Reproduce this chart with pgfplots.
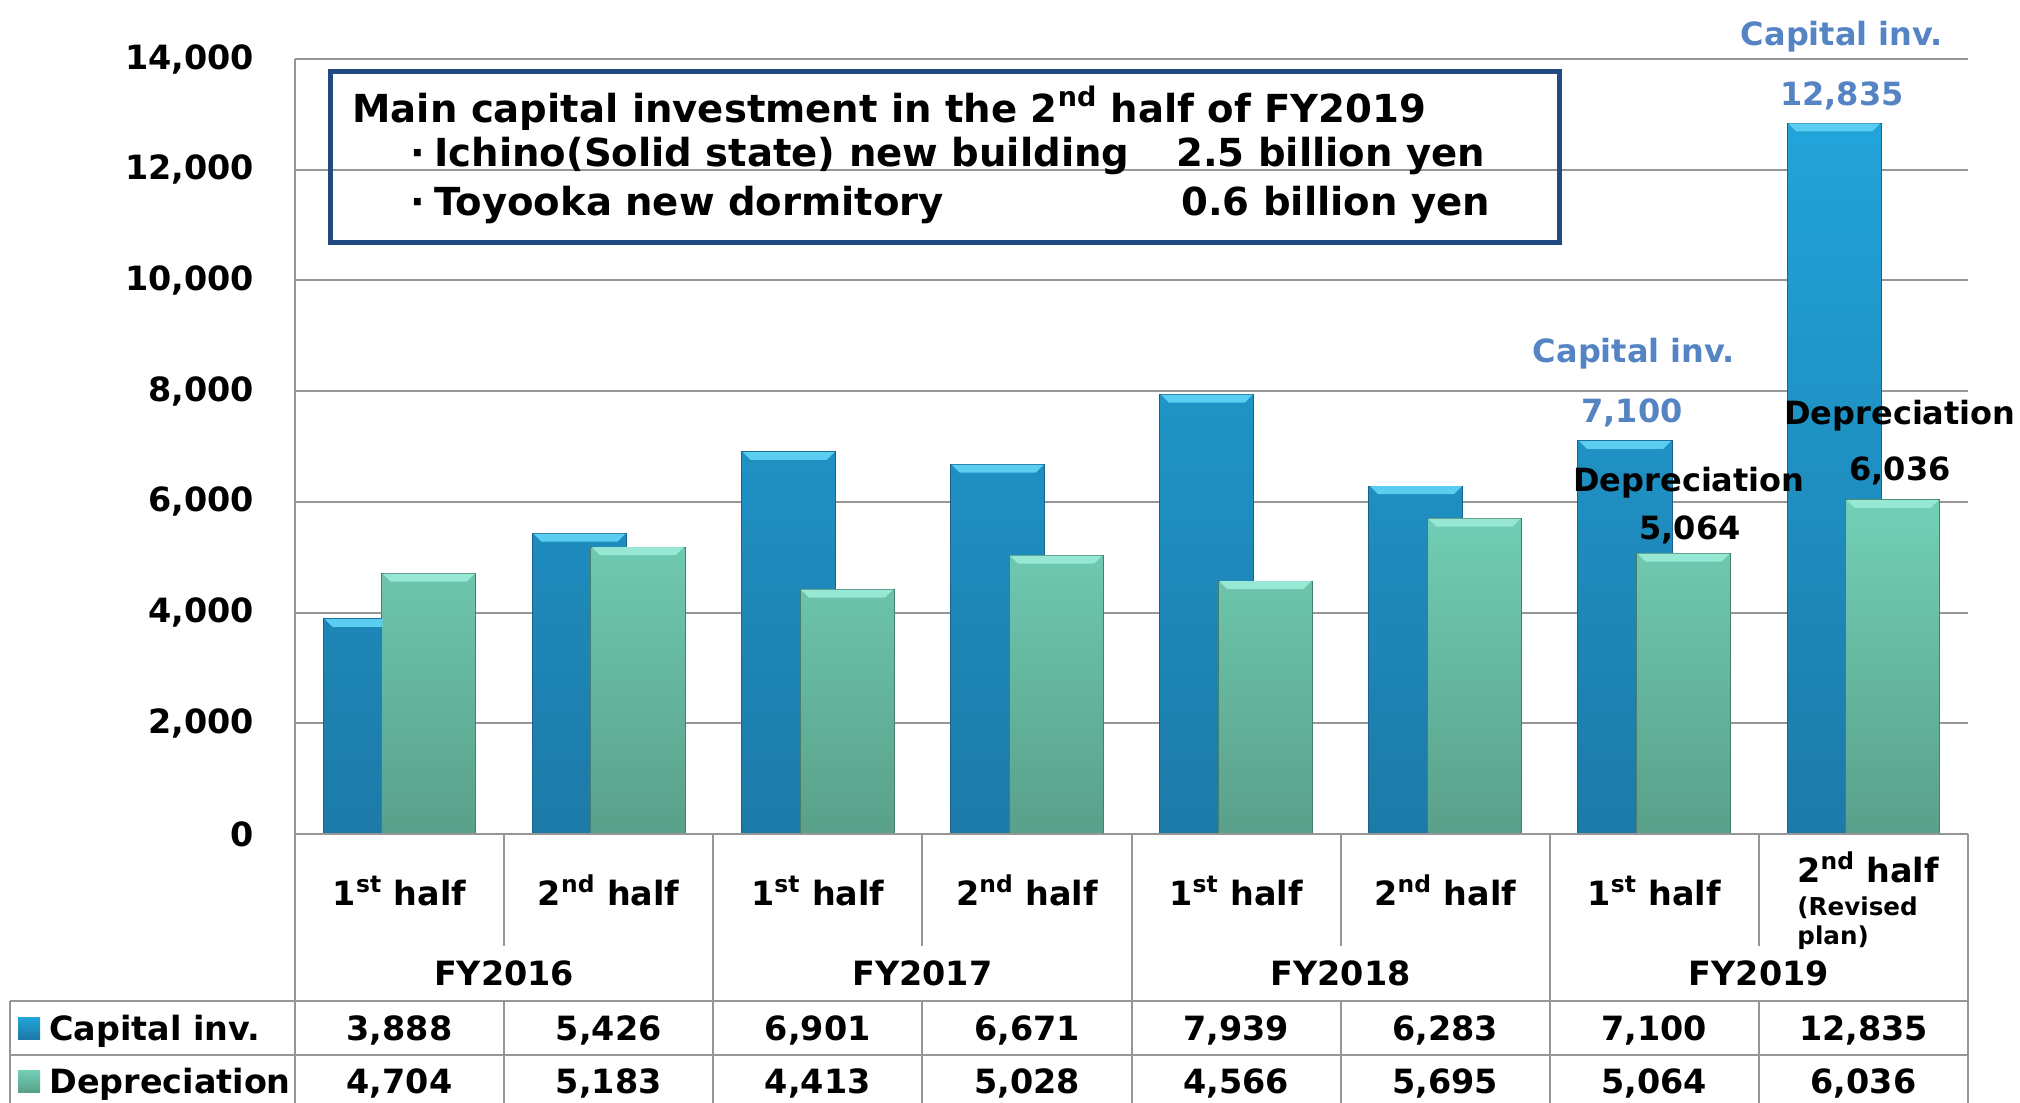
\documentclass[border=0pt]{standalone}
\usepackage{fontspec}
\setmainfont{DejaVu Sans}
\usepackage{pgfplots}
\pgfplotsset{compat=1.18}
\definecolor{capTop}{RGB}{34,164,218}
\definecolor{capBot}{RGB}{28,122,168}
\definecolor{capEdge}{RGB}{24,98,140}
\definecolor{capBev}{RGB}{90,205,240}
\definecolor{depTop}{RGB}{114,208,182}
\definecolor{depBot}{RGB}{90,160,138}
\definecolor{depEdge}{RGB}{70,128,108}
\definecolor{depBev}{RGB}{150,232,212}
\definecolor{annBlue}{RGB}{84,132,196}
\definecolor{boxBlue}{RGB}{33,74,128}
\definecolor{gridGray}{RGB}{150,150,150}
\newcommand\F[1]{\fontsize{#1}{#1}\selectfont\bfseries}
\pgfdeclareplotmark{bevel}{%
  \pgfpathmoveto{\pgfqpoint{-23pt}{0pt}}%
  \pgfpathlineto{\pgfqpoint{23pt}{0pt}}%
  \pgfpathlineto{\pgfqpoint{19pt}{-4pt}}%
  \pgfpathlineto{\pgfqpoint{-19pt}{-4pt}}%
  \pgfpathclose\pgfusepathqfill}
\pgfdeclareplotmark{bevelL}{%
  \pgfpathmoveto{\pgfqpoint{-23pt}{0pt}}%
  \pgfpathlineto{\pgfqpoint{6pt}{0pt}}%
  \pgfpathlineto{\pgfqpoint{6pt}{-4pt}}%
  \pgfpathlineto{\pgfqpoint{-19pt}{-4pt}}%
  \pgfpathclose\pgfusepathqfill}
\begin{document}
\begin{tikzpicture}
\begin{axis}[at={(147.5pt,-417pt)}, anchor=south west,
  width=836.5pt, height=387.5pt, scale only axis,
  xmin=-0.5, xmax=7.5, ymin=0, ymax=14000,
  axis line style={draw=none}, xtick=\empty,
  ytick={0,2000,4000,6000,8000,10000,12000,14000},
  ymajorgrids, grid style={gridGray, line width=1pt},
  major tick length=0pt, scaled y ticks=false,
  yticklabel style={font=\F{16.7}, xshift=-17pt},
  /pgf/number format/1000 sep={,},
  /pgf/number format/assume math mode=true]
\addplot[ybar, bar width=0.45, bar shift=-0.14, draw=capEdge, line width=0.5pt, top color=capTop, bottom color=capBot]
  coordinates {(0,3888) (1,5426) (2,6901) (3,6671) (4,7939) (5,6283) (6,7100) (7,12835)};
\addplot[only marks, mark=bevelL, mark options={fill=capBev, draw=none}, xshift=-14.6pt]
  coordinates {(0,3888)};
\addplot[only marks, mark=bevel, mark options={fill=capBev, draw=none}, xshift=-14.6pt]
  coordinates {(1,5426) (2,6901) (3,6671) (4,7939) (5,6283) (6,7100) (7,12835)};
\addplot[ybar, bar width=0.45, bar shift=0.14, draw=depEdge, line width=0.5pt, top color=depTop, bottom color=depBot]
  coordinates {(0,4704) (1,5183) (2,4413) (3,5028) (4,4566) (5,5695) (6,5064) (7,6036)};
\addplot[only marks, mark=bevel, mark options={fill=depBev, draw=none}, xshift=14.6pt]
  coordinates {(0,4704) (1,5183) (2,4413) (3,5028) (4,4566) (5,5695) (6,5064) (7,6036)};
\end{axis}
\begin{scope}[x=0.5pt,y=0.5pt]
% lines
\begin{scope}[gridGray, line width=1pt]
\draw (295,-59) -- (295,-1103);
\draw (1968,-834) -- (1968,-1103);
\draw (295,-834) -- (1968,-834);
\draw (10,-1001) -- (1968,-1001);
\draw (10,-1055) -- (1968,-1055);
\draw (10,-1001) -- (10,-1103);
\foreach \i in {1,3,5,7} {
  \draw (295+\i*209.125,-834) -- (295+\i*209.125,-946);
  \draw (295+\i*209.125,-1001) -- (295+\i*209.125,-1103);
}
\foreach \i in {2,4,6} {
  \draw (295+\i*209.125,-834) -- (295+\i*209.125,-1103);
}
\end{scope}
% box
\draw[boxBlue, line width=2.5pt] (330,-71) rectangle (1559,-242);
\begin{scope}[every node/.style={inner sep=0pt, font=\F{19.3}}]
\node[anchor=base west] at (352,-122) {Main capital investment in the 2\textsuperscript{nd} half of FY2019};
\node[anchor=base west] at (410,-166) {·};
\node[anchor=base west] at (434,-166) {Ichino(Solid state) new building};
\node[anchor=base west] at (1176,-166) {2.5 billion yen};
\node[anchor=base west] at (410,-215) {·};
\node[anchor=base west] at (434,-215) {Toyooka new dormitory};
\node[anchor=base west] at (1181,-215) {0.6 billion yen};
\end{scope}
% annotations
\begin{scope}[every node/.style={inner sep=0pt, font=\F{16}, anchor=base}]
\node[annBlue] at (1634,-362) {Capital inv.};
\node[annBlue] at (1632,-422) {7,100};
\node[annBlue] at (1842,-46) {Capital inv.};
\node[annBlue] at (1842,-105) {12,835};
\node at (1689,-491) {Depreciation};
\node at (1690,-539) {5,064};
\node at (1900,-424) {Depreciation};
\node at (1900,-480) {6,036};
\end{scope}
% category labels
\begin{scope}[every node/.style={inner sep=0pt, font=\F{16.7}, anchor=base}]
\foreach \i in {0,2,4,6} {
  \node at (295+\i*209.125+104.56,-905) {1\textsuperscript{st} half};
}
\foreach \i in {1,3,5} {
  \node at (295+\i*209.125+104.56,-905) {2\textsuperscript{nd} half};
}
\node at (504.1,-985) {FY2016};
\node at (922.4,-985) {FY2017};
\node at (1340.6,-985) {FY2018};
\node at (1758.9,-985) {FY2019};
\node[anchor=base west] at (1797,-882) {2\textsuperscript{nd} half};
\node[anchor=base west, font=\F{12.3}] at (1797,-915) {(Revised};
\node[anchor=base west, font=\F{12.3}] at (1797,-944) {plan)};
% table
\shade[top color=capTop, bottom color=capBot] (18,-1017) rectangle (40,-1039);
\shade[top color=depTop, bottom color=depBot] (18,-1070) rectangle (40,-1092);
\node[anchor=base west] at (49,-1040) {Capital inv.};
\node[anchor=base west] at (49,-1093) {Depreciation};
\foreach \v [count=\i from 0] in {{3,888},{5,426},{6,901},{6,671},{7,939},{6,283},{7,100},{12,835}} {
  \node at (295+\i*209.125+104.56,-1040) {\v};
}
\foreach \v [count=\i from 0] in {{4,704},{5,183},{4,413},{5,028},{4,566},{5,695},{5,064},{6,036}} {
  \node at (295+\i*209.125+104.56,-1093) {\v};
}
\end{scope}
\pgfresetboundingbox
\path[use as bounding box] (0,0) rectangle (2020,-1103);
\end{scope}
\end{tikzpicture}
\end{document}
